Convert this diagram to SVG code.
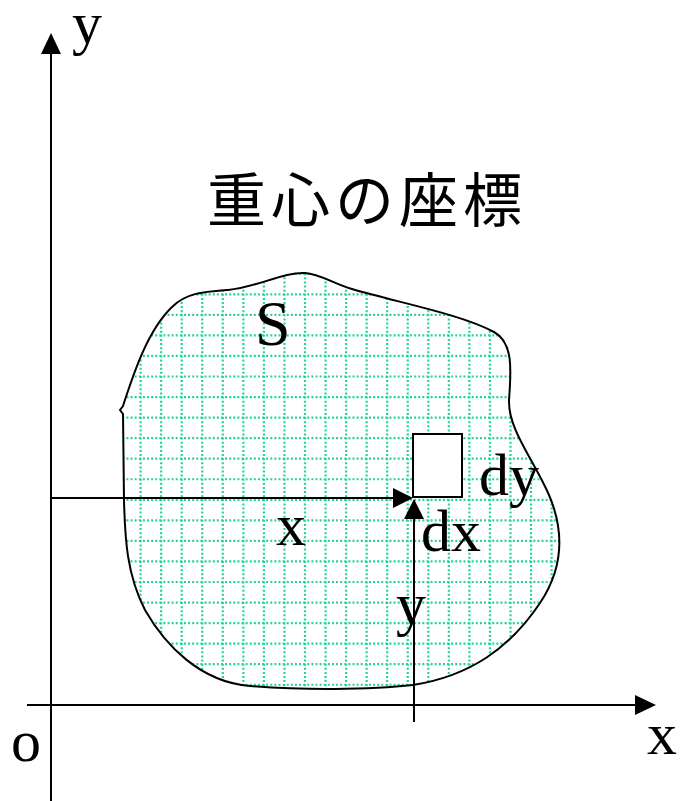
<svg xmlns="http://www.w3.org/2000/svg" width="681" height="801" viewBox="0 0 681 801">
<style>
.ax{stroke:#000;stroke-width:2;fill:none}
.lbl{font-family:"Liberation Serif","Times New Roman",serif;font-size:60px;fill:#000}
.ttl{font-family:"Noto Sans CJK JP","Noto Sans CJK SC",sans-serif;font-size:59px;fill:#000;letter-spacing:5px}
.grid{stroke:#22d2a0;stroke-width:2.2;stroke-dasharray:2 2.11;fill:none}
.ah{fill:#000;stroke:none}
</style>
<defs>
<path id="shape" d="M 120,410 L 123,406 C 134,372 148,330 172,307 C 186,293 202,292 228,290 C 258,287 283,272 305,273 C 320,274 332,283 352,289 C 400,303 460,314 494,332 C 514,343 511,372 509,400 C 508,430 534,460 549,495 C 566,535 562,570 540,603 C 510,648 470,676 413,685 C 370,690 300,690 250,686 C 200,682 165,645 145,610 C 127,575 125,540 124,500 L 123,414 Z"/>
<clipPath id="clip"><use href="#shape"/></clipPath>
</defs>
<g id="region">
<use href="#shape" fill="#fff"/>
<path class="grid" clip-path="url(#clip)" d="M120.05,265V700M140.6,265V700M161.15,265V700M181.7,265V700M202.25,265V700M222.8,265V700M243.35,265V700M263.9,265V700M284.45,265V700M305,265V700M325.55,265V700M346.1,265V700M366.65,265V700M387.2,265V700M407.75,265V700M428.3,265V700M448.85,265V700M469.4,265V700M489.95,265V700M510.5,265V700M531.05,265V700M551.6,265V700M110,273.75H570M110,294.3H570M110,314.85H570M110,335.4H570M110,355.95H570M110,376.5H570M110,397.05H570M110,417.6H570M110,438.15H570M110,458.7H570M110,479.25H570M110,499.8H570M110,520.35H570M110,540.9H570M110,561.45H570M110,582H570M110,602.55H570M110,623.1H570M110,643.65H570M110,664.2H570M110,684.75H570"/>
<use href="#shape" fill="none" stroke="#000" stroke-width="2"/>
<text class="lbl" x="255" y="345" style="font-size:64px">S</text>
</g>
<g id="title"><text class="ttl" x="207" y="222">重心の座標</text></g>
<g id="element">
<rect x="413" y="434" width="49" height="63" fill="#fff" stroke="#000" stroke-width="2"/>
<text class="lbl" x="479" y="495">dy</text>
<text class="lbl" x="421" y="551">dx</text>
</g>
<g id="labels">
<text class="lbl" x="72" y="43">y</text>
<text class="lbl" x="11" y="761">o</text>
<text class="lbl" x="647" y="754">x</text>
<text class="lbl" x="276" y="545">x</text>
<text class="lbl" x="396" y="624">y</text>
</g>
<g id="connectors">
<line class="ax" x1="51" y1="801" x2="51" y2="52"/>
<polygon class="ah" points="51,33 41,54 61,54"/>
<line class="ax" x1="27" y1="705" x2="637" y2="705"/>
<polygon class="ah" points="656,705 635,695 635,715"/>
<line class="ax" x1="51" y1="498" x2="395" y2="498"/>
<polygon class="ah" points="413,498 393,488 393,508"/>
<line class="ax" x1="414" y1="722" x2="414" y2="517"/>
<polygon class="ah" points="414,499 404,519 424,519"/>
</g>
</svg>
